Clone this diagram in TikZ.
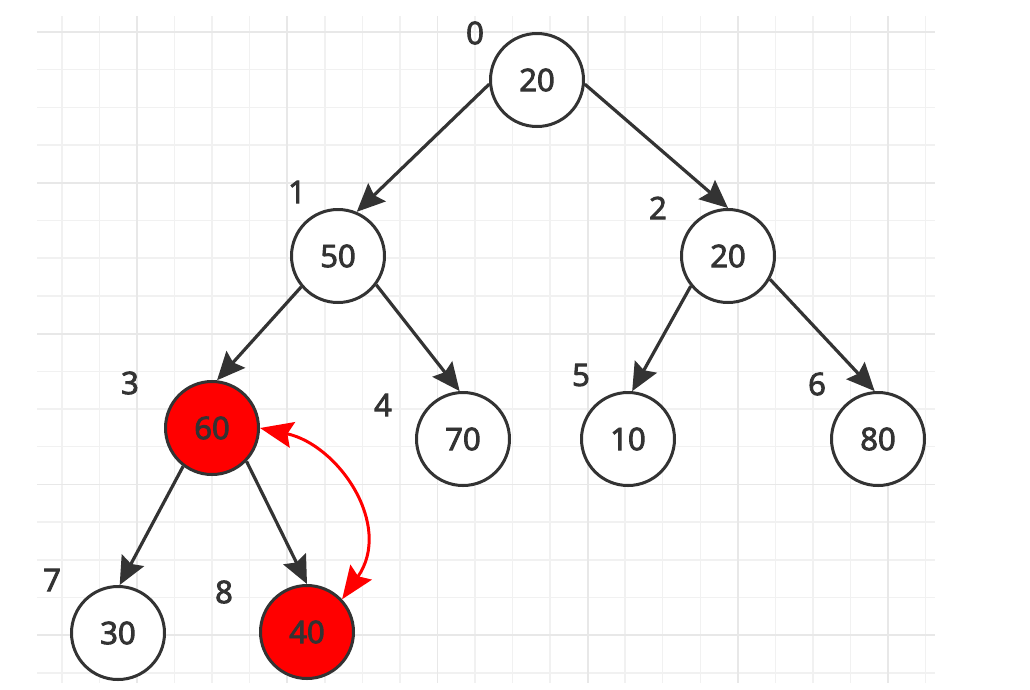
\documentclass[tikz,border=0pt]{standalone}
\usepackage{fontspec}
\setmainfont{Open Sans}
\newfontfamily\heapfont[FakeBold=3]{Open Sans}
\usetikzlibrary{arrows.meta}
\definecolor{inkgray}{HTML}{333333}
\definecolor{gridminor}{HTML}{F1F1F1}
\definecolor{gridmajor}{HTML}{E8E8E8}
\definecolor{swapred}{HTML}{FF0000}

\begin{document}
\begin{tikzpicture}[x=1pt, y=-1pt, >={Stealth[length=28pt, width=25pt, inset=4pt]},
  heapnode/.style={circle, draw=inkgray, line width=3pt, fill=white, minimum size=93pt,
    inner sep=0pt, text=inkgray, font=\heapfont\fontsize{31}{31}\selectfont},
  swapnode/.style={heapnode, fill=swapred},
  idxlabel/.style={text=inkgray, inner sep=0pt, font=\heapfont\fontsize{31}{31}\selectfont},
  link/.style={draw=inkgray, line width=3.2pt, ->},
  swaplink/.style={draw=swapred, line width=3pt,
    {Stealth[length=33pt, width=26pt, inset=5pt]}-{Stealth[length=33pt, width=26pt, inset=5pt]}}]
  \useasboundingbox (0,0) rectangle (1030,689);
  % background grid
  \begin{scope}
    \clip (37,16) rectangle (935,683);
    \foreach \k in {-2,...,21} \draw[gridminor, line width=1.5pt] ({137+37.55*\k},16) -- (137+37.55*\k,683);
    \foreach \k in {0,...,17} \draw[gridminor, line width=1.5pt] (37,{32+37.7*\k}) -- (935,32+37.7*\k);
    \foreach \k in {0,4,...,20} \draw[gridmajor, line width=1.8pt] ({137+37.55*\k},16) -- (137+37.55*\k,683);
    \foreach \k in {0,4,...,16} \draw[gridmajor, line width=1.8pt] (37,{32+37.7*\k}) -- (935,32+37.7*\k);
  \end{scope}
  % heap nodes
  \node[heapnode] (n0) at (537,80) {20};
  \node[heapnode] (n1) at (338,256) {50};
  \node[heapnode] (n2) at (728,256) {20};
  \node[swapnode] (n3) at (212,428) {60};
  \node[heapnode] (n4) at (463,439) {70};
  \node[heapnode] (n5) at (628,439) {10};
  \node[heapnode] (n6) at (878,439) {80};
  \node[heapnode] (n7) at (118,633) {30};
  \node[swapnode] (n8) at (307,632) {40};
  % array indices
  \node[idxlabel] (idx0) at (475,33) {0};
  \node[idxlabel] (idx1) at (297,192) {1};
  \node[idxlabel] (idx2) at (658,208) {2};
  \node[idxlabel] (idx3) at (130,383) {3};
  \node[idxlabel] (idx4) at (383,405) {4};
  \node[idxlabel] (idx5) at (581,375) {5};
  \node[idxlabel] (idx6) at (817,384) {6};
  \node[idxlabel] (idx7) at (52,580) {7};
  \node[idxlabel] (idx8) at (224,592) {8};
  % parent -> child
  \draw[link] (n0.185) -- (n1.67);
  \draw[link] (n0.-5) -- (n2.90);
  \draw[link] (n1.220) -- (n3.84);
  \draw[link] (n1.-37) -- (n4.94);
  \draw[link] (n2.219) -- (n5.85);
  \draw[link] (n2.-29) -- (n6.94);
  \draw[link] (n3.233) -- (n7.88);
  \draw[link] (n3.-44) -- (n8.90);
  % swap
  \draw[swaplink] (n8.43) .. controls +(-55:90) and +(12:80) .. (n3.0);
\end{tikzpicture}
\end{document}
